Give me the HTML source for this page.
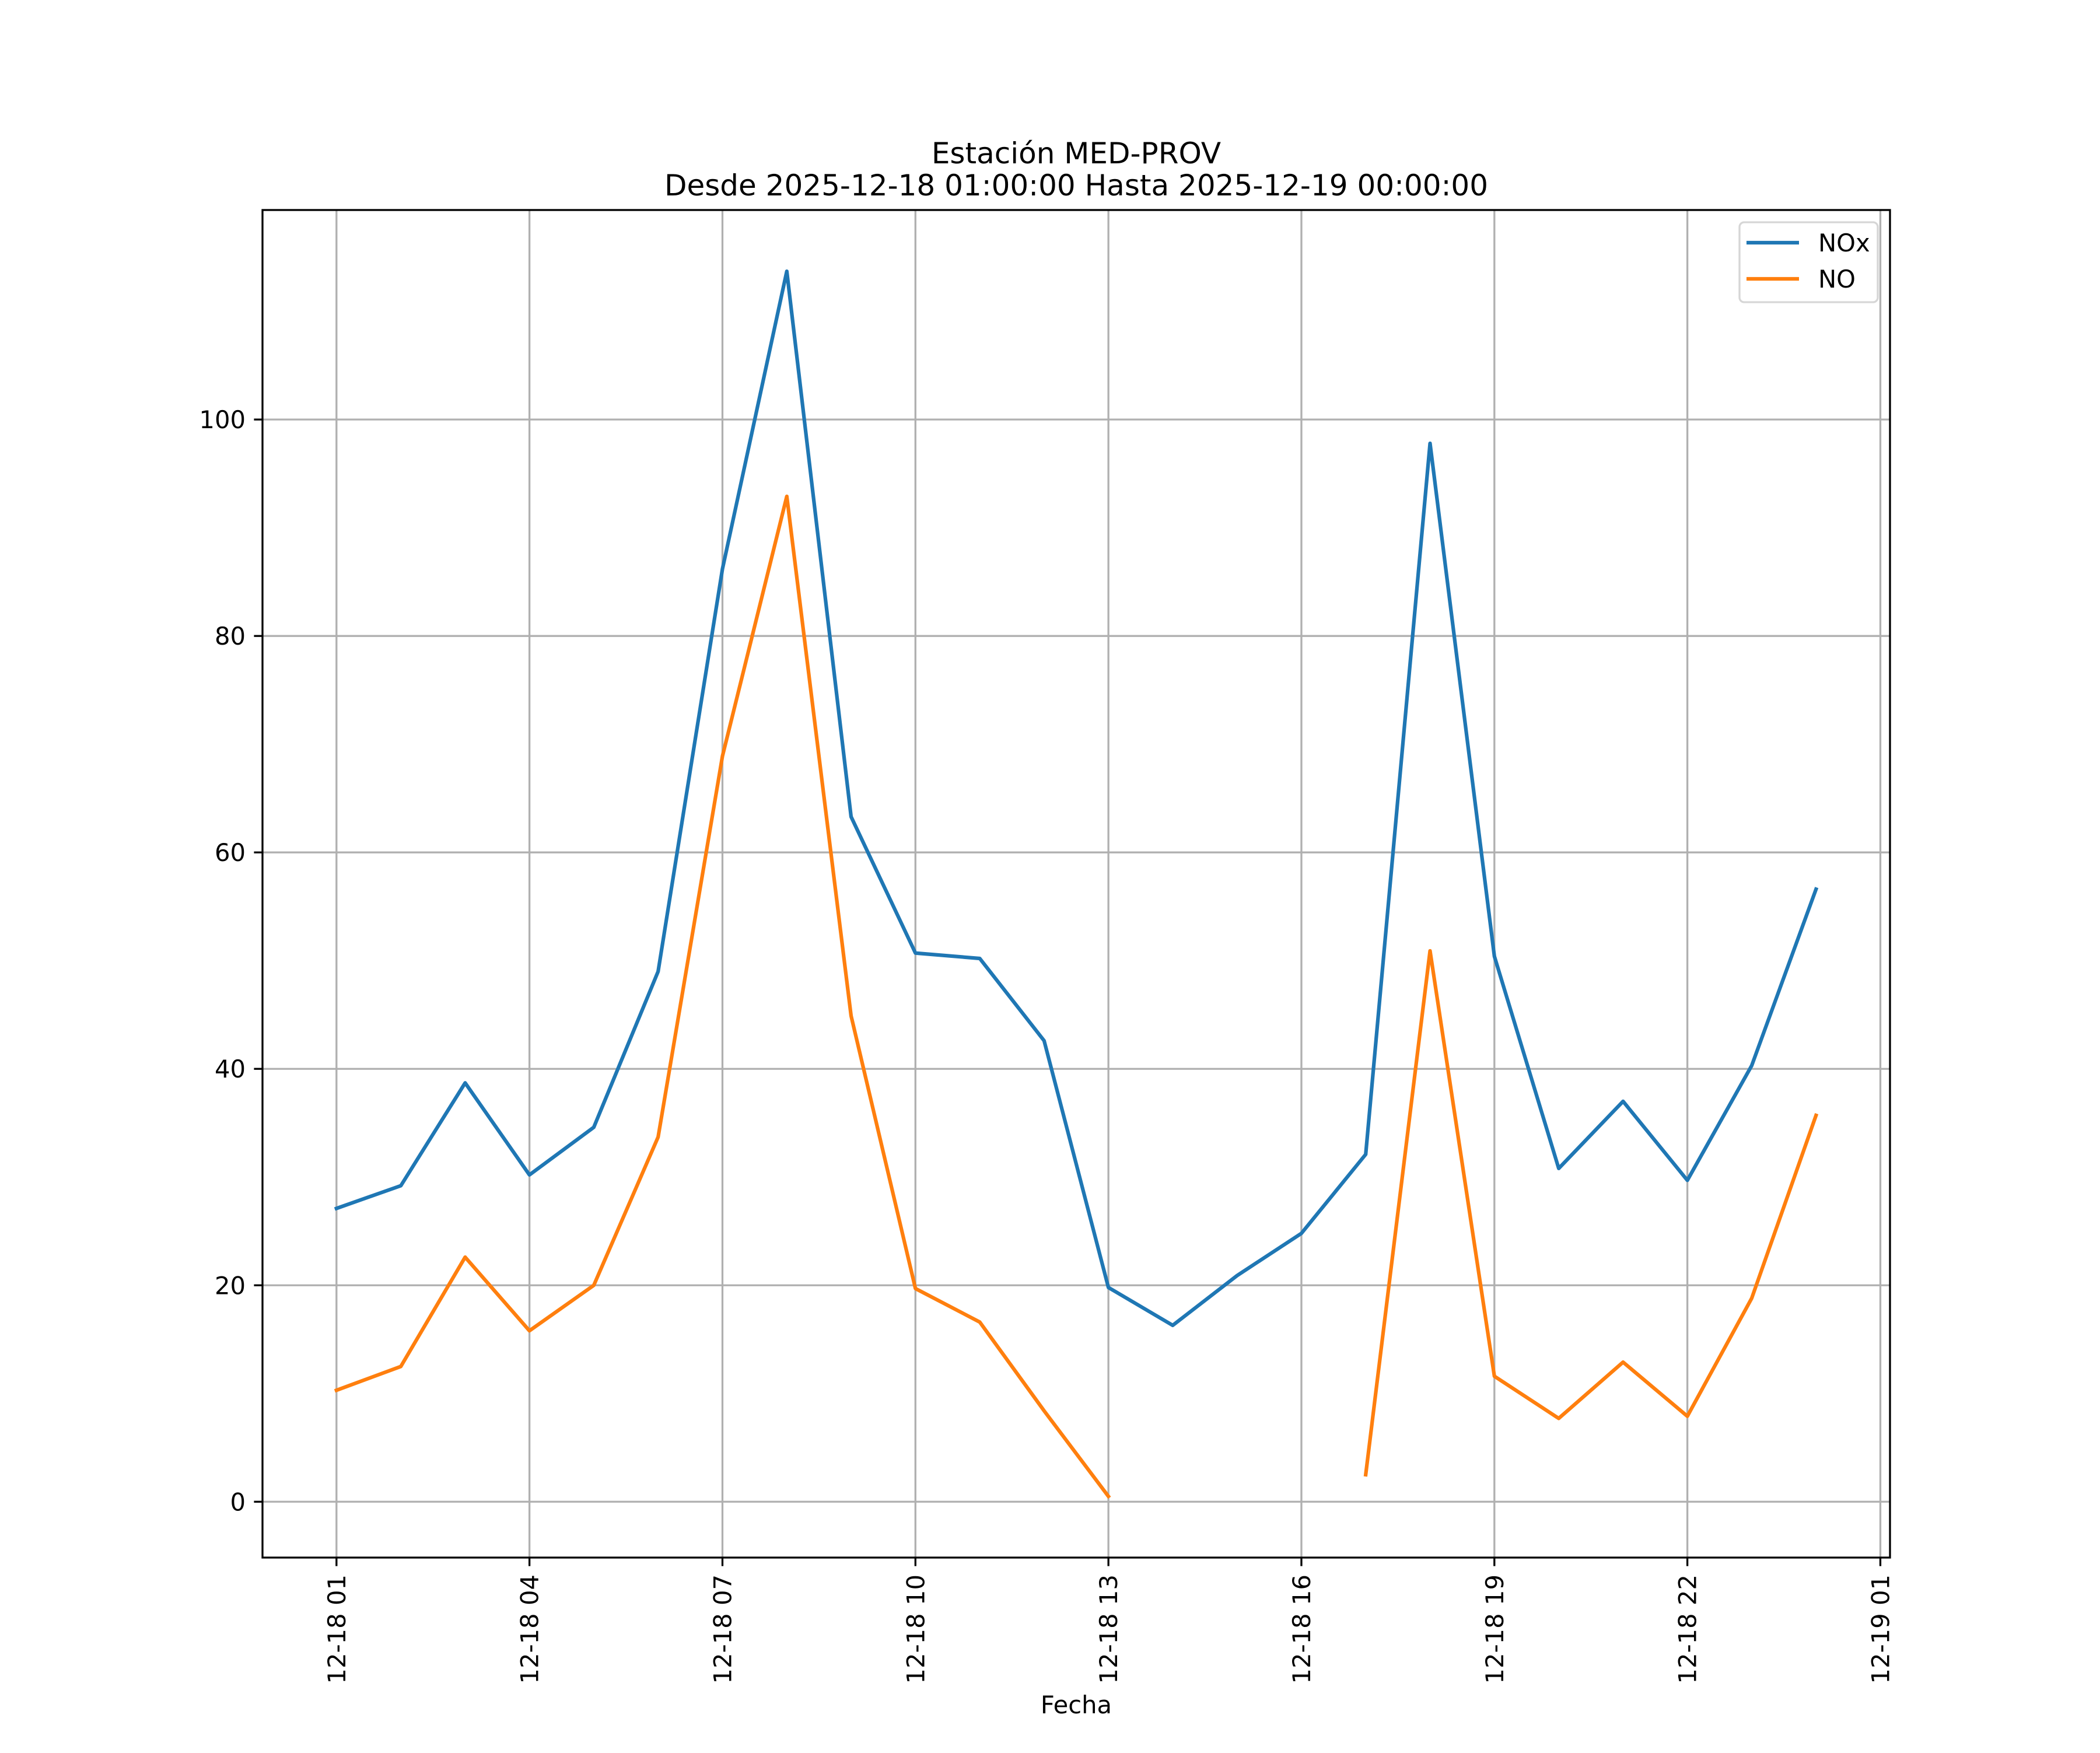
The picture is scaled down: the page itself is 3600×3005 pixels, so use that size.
<!DOCTYPE html>
<html><head><meta charset="utf-8"><style>
html,body{margin:0;padding:0;background:#fff;}
svg text{font-family:"DejaVu Sans","Liberation Sans",sans-serif;fill:#000;}
</style></head><body>
<svg id="chart" width="3600" height="3000" viewBox="0 0 3600 3000" xmlns="http://www.w3.org/2000/svg">
<rect x="0" y="0" width="3600" height="3000" fill="#fff"/>
<text x="1845" y="280" font-size="50" text-anchor="middle">Estación MED-PROV</text>
<text x="1845" y="335" font-size="50" text-anchor="middle">Desde 2025-12-18 01:00:00 Hasta 2025-12-19 00:00:00</text>
<g id="grid"></g>
<g id="series"></g>
<rect x="450" y="360" width="2790" height="2310" fill="none" stroke="#000" stroke-width="3.3"/>
<g id="ticks"></g>
<text x="1845" y="2937" font-size="41.7" text-anchor="middle">Fecha</text>
<g>
<rect x="2982" y="381" width="237" height="137" rx="8" fill="#fff" fill-opacity="0.8" stroke="#d6d6d6" stroke-width="3.3"/>
<line x1="2994" y1="416" x2="3084" y2="416" stroke="#1f77b4" stroke-width="6.25"/>
<text x="3117" y="431" font-size="41.7">NOx</text>
<line x1="2994" y1="478" x2="3084" y2="478" stroke="#ff7f0e" stroke-width="6.25"/>
<text x="3117" y="493" font-size="41.7">NO</text>
</g>
</svg>
<script>
const hours = [1,2,3,4,5,6,7,8,9,10,11,12,13,14,15,16,17,18,19,20,21,22,23,24];
const noxValues = [27.1,29.2,38.7,30.2,34.6,49.0,86.2,113.7,63.3,50.7,50.2,42.6,19.8,16.3,20.9,24.8,32.1,97.8,50.4,30.8,37.0,29.7,40.3,56.6];
const noValues = [10.3,12.5,22.6,15.8,20.0,33.7,68.9,92.9,44.9,19.7,16.6,8.4,0.5,null,null,null,2.5,50.9,11.6,7.7,12.9,7.9,18.8,35.7];
const xTickHours = [1,4,7,10,13,16,19,22,25];
const xTickLabels = ["12-18 01","12-18 04","12-18 07","12-18 10","12-18 13","12-18 16","12-18 19","12-18 22","12-19 01"];
const yTicks = [0,20,40,60,80,100];

const NS = "http://www.w3.org/2000/svg";
const L=450,R=3240,T=360,B=2670;
const xMin=-0.15, xMax=25.15;
const yMin=-5.16, yMax=119.36;
function xs(h){return L+(h-xMin)/(xMax-xMin)*(R-L);}
function ys(v){return B-(v-yMin)/(yMax-yMin)*(B-T);}
function mk(tag,attrs,parent){const e=document.createElementNS(NS,tag);for(const k in attrs)e.setAttribute(k,attrs[k]);parent.appendChild(e);return e;}
const grid=document.getElementById('grid'), ticks=document.getElementById('ticks'), series=document.getElementById('series');

xTickHours.forEach((h,i)=>{
  const x=xs(h);
  const g=mk('line',{x1:x,y1:T,x2:x,y2:B,stroke:'#b0b0b0','stroke-width':3.3},grid);
  
  
  const t=mk('line',{x1:x,y1:B,x2:x,y2:B+14.6,stroke:'#000','stroke-width':3.3},ticks);
  
  
  const lb=mk('text',{x:0,y:0,'font-size':41.7,'text-anchor':'end',transform:`translate(${x+15},${B+29}) rotate(-90)`},ticks);
  lb.textContent=xTickLabels[i];
  
  
});
yTicks.forEach(v=>{
  const y=ys(v);
  const g=mk('line',{x1:L,y1:y,x2:R,y2:y,stroke:'#b0b0b0','stroke-width':3.3},grid);
  
  
  const t=mk('line',{x1:L-14.6,y1:y,x2:L,y2:y,stroke:'#000','stroke-width':3.3},ticks);
  
  
  const lb=mk('text',{x:L-29,y:y+15,'font-size':41.7,'text-anchor':'end'},ticks);
  lb.textContent=String(v);
  
  
});
function drawSeries(vals,color,name){
  let segs=[],cur=[];
  vals.forEach((v,i)=>{ if(v===null){ if(cur.length)segs.push(cur); cur=[]; } else cur.push(xs(hours[i]).toFixed(1)+','+ys(v).toFixed(1)); });
  if(cur.length)segs.push(cur);
  segs.forEach(s=>{
    const p=mk('polyline',{points:s.join(' '),fill:'none',stroke:color,'stroke-width':6.25,'stroke-linejoin':'round','stroke-linecap':'square'},series);
    
    
  });
}
drawSeries(noxValues,'#1f77b4','nox-line');
drawSeries(noValues,'#ff7f0e','no-line');
</script>
</body></html>
